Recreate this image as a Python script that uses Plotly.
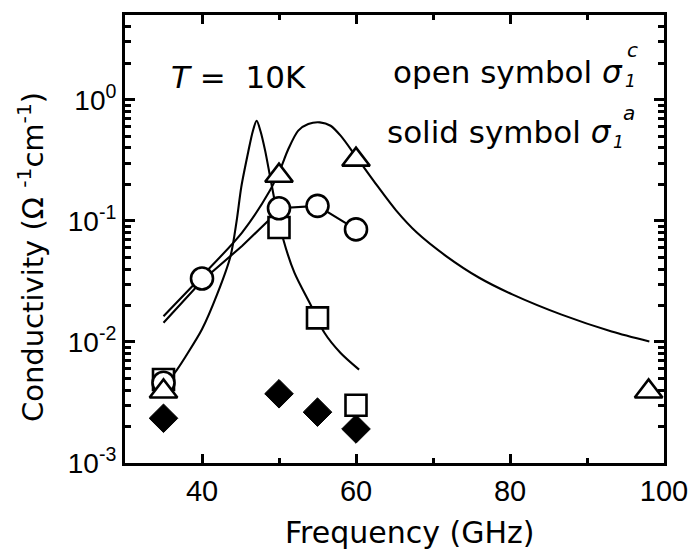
import plotly.graph_objects as go

# ---------------- data ----------------
freq_square = [35, 50, 55, 60]
sigma_square = [0.0049, 0.088, 0.0158, 0.0030]

freq_circle = [35, 40, 50, 55, 60]
sigma_circle = [0.0046, 0.0334, 0.127, 0.133, 0.085]

freq_triangle = [35, 50, 60, 98]
sigma_triangle = [0.0039, 0.236, 0.32, 0.0039]

freq_diamond = [35, 50, 55, 60]
sigma_diamond = [0.00234, 0.00373, 0.00263, 0.00191]

# narrow resonance curve (through squares)
narrow_x = [35, 36.5, 38, 40, 42, 43.7, 44.5, 45.1, 46.0, 46.6, 47.1, 47.6, 48.2, 48.8, 49.6, 50.55, 52.0, 54.2, 55.9, 58.0, 60.4]
narrow_y = [0.0044, 0.0056, 0.0078, 0.0127, 0.025, 0.051, 0.10, 0.19, 0.37, 0.55, 0.67, 0.55, 0.38, 0.24, 0.13, 0.0705, 0.0373, 0.0197, 0.0119, 0.0081, 0.0059]

# broad resonance curve (through triangles)
broad_x = [35, 40, 45.2, 48.8, 50.2, 51.2, 52.5, 53.8, 55.3, 56.7, 58.0, 60.0, 62.75, 65.2, 67.9, 71.7, 76.0, 80.3, 86.7, 93.2, 98.1]
broad_y = [0.0163, 0.035, 0.080, 0.177, 0.27, 0.39, 0.556, 0.63, 0.65, 0.61, 0.505, 0.34, 0.195, 0.122, 0.080, 0.0512, 0.0339, 0.0247, 0.0168, 0.0122, 0.0101]

# line through the open circles
circ_line_x = [35, 40, 45.2, 48.6, 50, 55, 60]
circ_line_y = [0.0144, 0.0320, 0.062, 0.100, 0.127, 0.133, 0.085]

x_ticks = [40, 60, 80, 100]
x_minor = [50, 70, 90]
y_ticks = [1e-3, 1e-2, 1e-1, 1]
y_ticktext = ["10<sup>-3</sup>", "10<sup>-2</sup>", "10<sup>-1</sup>", "10<sup>0</sup>"]

TICKFONT = "Liberation Sans, Arial, Helvetica, sans-serif"
TEXTFONT = "DejaVu Sans, Verdana, sans-serif"

fig = go.Figure()

line_style = dict(color="black", width=2.1)
fig.add_trace(go.Scatter(x=broad_x, y=broad_y, mode="lines",
                         line=dict(shape="spline", smoothing=0.8, **line_style)))
fig.add_trace(go.Scatter(x=narrow_x, y=narrow_y, mode="lines",
                         line=dict(shape="spline", smoothing=0.8, **line_style)))
fig.add_trace(go.Scatter(x=circ_line_x, y=circ_line_y, mode="lines",
                         line=dict(shape="linear", **line_style)))

open_marker_line = dict(color="black", width=2.6)
fig.add_trace(go.Scatter(x=freq_diamond, y=sigma_diamond, mode="markers",
                         marker=dict(symbol="diamond", size=22, color="black",
                                     line=dict(color="black", width=1))))
fig.add_trace(go.Scatter(x=freq_square, y=sigma_square, mode="markers",
                         marker=dict(symbol="square", size=21, color="white",
                                     line=open_marker_line)))
fig.add_trace(go.Scatter(x=freq_circle, y=sigma_circle, mode="markers",
                         marker=dict(symbol="circle", size=22, color="white",
                                     line=open_marker_line)))
fig.add_trace(go.Scatter(x=freq_triangle, y=sigma_triangle, mode="markers",
                         marker=dict(symbol="triangle-up", size=24, color="white",
                                     line=open_marker_line)))

L, R, T, B = 125, 30, 15, 89
W, H = 700, 552
PW, PH = W - L - R, H - T - B


def px(xp):
    return (xp - L) / PW


def py(yp):
    return (H - B - yp) / PH


annots = [
    dict(text="<i>T</i> = \u00a010K", x=px(240), y=py(77), size=31),
    dict(text="open symbol <i>σ</i>", x=px(631), y=py(72), size=31, xanchor="right"),
    dict(text="<i>1</i>", x=px(636), y=py(81), size=17),
    dict(text="<i>c</i>", x=px(638), y=py(50), size=20),
    dict(text="solid symbol <i>σ</i>", x=px(619), y=py(132), size=31, xanchor="right"),
    dict(text="<i>1</i>", x=px(624), y=py(142), size=17),
    dict(text="<i>a</i>", x=px(635), y=py(113), size=20),
    dict(text="Frequency (GHz)", x=px(413), y=py(532), size=30),
]
for a in annots:
    fig.add_annotation(text=a["text"], x=a["x"], y=a["y"], xref="paper", yref="paper",
                       xanchor=a.get("xanchor", "center"), yanchor="middle",
                       showarrow=False, font=dict(family=TEXTFONT, size=a["size"], color="black"))

fig.add_annotation(text="Conductivity (Ω <sup>-1</sup>cm<sup>-1</sup>)", x=px(30), y=py(257),
                   xref="paper", yref="paper", xanchor="center", yanchor="middle",
                   textangle=-90, showarrow=False,
                   font=dict(family=TEXTFONT, size=29, color="black"))

y_minor = [m * 10.0 ** e for e in range(-3, 1) for m in range(2, 10)]

fig.update_layout(
    width=W, height=H,
    margin=dict(l=L, r=R, t=T, b=B, pad=0),
    paper_bgcolor="white", plot_bgcolor="white",
    showlegend=False,
    font=dict(family=TICKFONT, color="black", size=28),
    xaxis=dict(range=[30, 100], tickmode="array", tickvals=x_ticks,
               ticks="inside", ticklen=9, tickwidth=2.5, tickcolor="black",
               showline=True, linewidth=3, linecolor="black", mirror="ticks",
               showgrid=False, zeroline=False,
               tickfont=dict(family=TICKFONT, size=29),
               minor=dict(tickmode="array", tickvals=x_minor, ticks="inside",
                          ticklen=5, tickwidth=2.5, tickcolor="black", showgrid=False)),
    yaxis=dict(type="log", range=[-3, 0.7], tickmode="array", tickvals=y_ticks,
               ticktext=y_ticktext,
               ticks="inside", ticklen=10, tickwidth=2.5, tickcolor="black",
               showline=True, linewidth=3, linecolor="black", mirror="ticks",
               showgrid=False, zeroline=False,
               tickfont=dict(family=TICKFONT, size=28),
               minor=dict(tickmode="array", tickvals=y_minor, ticks="inside",
                          ticklen=6, tickwidth=2.5, tickcolor="black", showgrid=False)),
)

fig.write_html("out.html")
